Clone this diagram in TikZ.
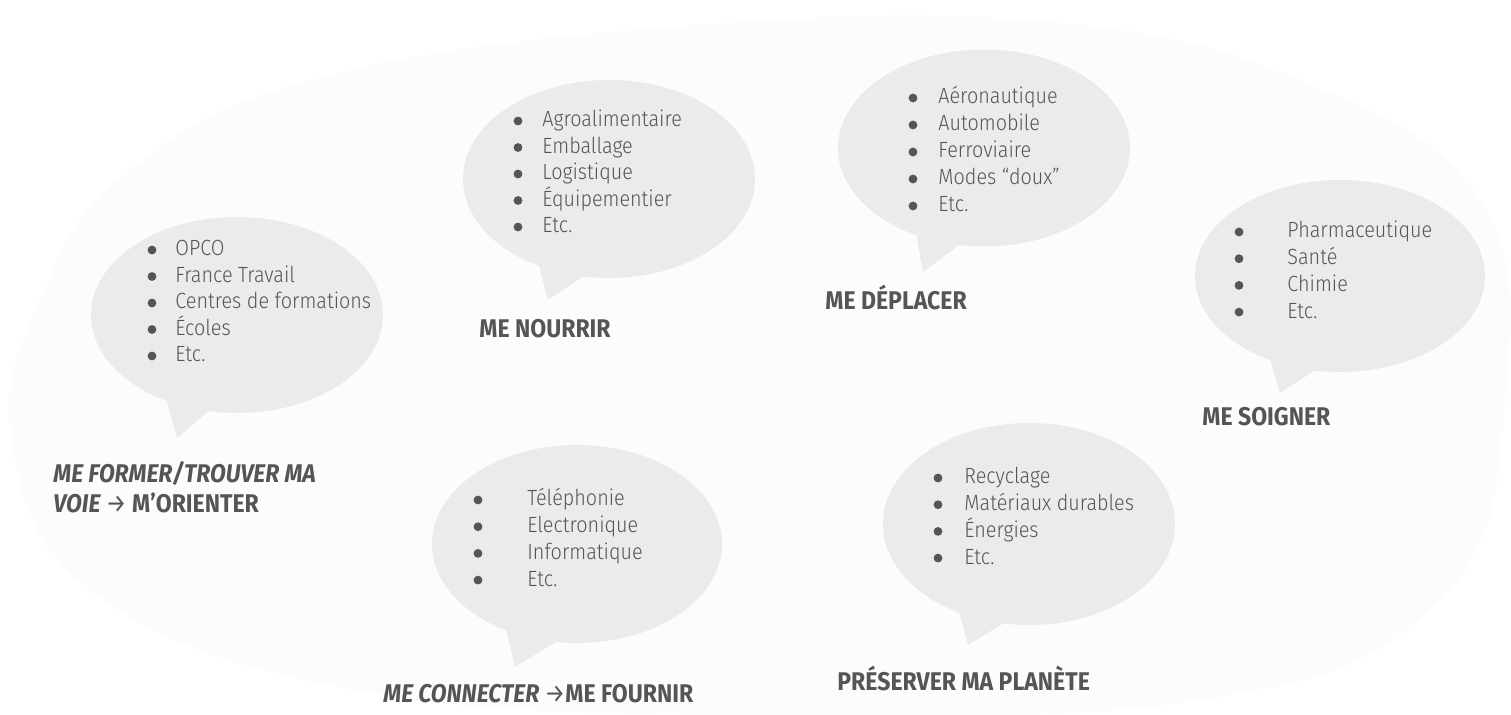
\documentclass[tikz,border=0pt]{standalone}
\usepackage{fontspec}
\setmainfont{Fira Sans}[FakeStretch=0.9]
\newfontfamily\leger{Fira Sans Light}[FakeStretch=0.9]
\usetikzlibrary{shapes.geometric}
\definecolor{bulle}{HTML}{EBEBEB}
\definecolor{encre}{HTML}{555555}
\definecolor{fond}{HTML}{FCFCFC}
\tikzset{
  bulle/.style={ellipse, fill=bulle, inner sep=0pt},
  puce/.style={circle, fill=encre, inner sep=0pt, minimum size=4.4pt},
  item/.style={anchor=base west, inner sep=0pt, text=encre, font=\leger\fontsize{11}{13}\selectfont},
  titre/.style={anchor=base west, inner sep=0pt, text=encre, font=\fontsize{12.8}{15}\selectfont\bfseries}
}
\begin{document}
\begin{tikzpicture}[x=0.5pt,y=-0.5pt]
        \useasboundingbox (0,0) rectangle (1511,715);
        \fill[fond] plot[smooth cycle, tension=0.7] coordinates {(12,440) (40,300) (130,170) (330,75) (700,25) (1050,22) (1300,80) (1480,200) (1505,400) (1440,600) (1200,700) (700,715) (330,685) (90,590)};

        % former
        \fill[bulle] (165,395) -- (177,438) -- (213,407) -- cycle;
        \node[bulle, minimum width=146pt, minimum height=98pt] (former) at (237,315) {};
        \foreach \txt [count=\i] in {OPCO, France Travail, Centres de formations, Écoles, Etc.}{
          \node[puce] (former-p\i) at (152, 223.5+26.5*\i) {};
          \node[item] (former-\i) at (175, 229.5+26.5*\i) {\txt};
        }
        \node[titre] (t-former1) at (53,483) {\itshape ME FORMER/TROUVER MA};
        \node[titre] (t-former2) at (53,513) {\itshape VOIE\upshape{} {\mdseries →} M’ORIENTER};

        % nourrir
        \fill[bulle] (538,262) -- (548,300) -- (590,272) -- cycle;
        \node[bulle, minimum width=146pt, minimum height=99pt] (nourrir) at (609,179) {};
        \foreach \txt [count=\i] in {Agroalimentaire, Emballage, Logistique, Équipementier, Etc.}{
          \node[puce] (nourrir-p\i) at (518, 94.5+26.5*\i) {};
          \node[item] (nourrir-\i) at (542, 100.5+26.5*\i) {\txt};
        }
        \node[titre] (t-nourrir) at (479,338) {ME NOURRIR};

        % deplacer
        \fill[bulle] (915,228) -- (923,272) -- (963,242) -- cycle;
        \node[bulle, minimum width=146pt, minimum height=98.5pt] (deplacer) at (984,148) {};
        \foreach \txt [count=\i] in {Aéronautique, Automobile, Ferroviaire, Modes “doux”, Etc.}{
          \node[puce] (deplacer-p\i) at (913, 71+27*\i) {};
          \node[item] (deplacer-\i) at (938, 77+27*\i) {\txt};
        }
        \node[titre] (t-deplacer) at (825,310) {ME DÉPLACER};

        % soigner
        \fill[bulle] (1268,352) -- (1280,393) -- (1323,365) -- cycle;
        \node[bulle, minimum width=145pt, minimum height=96pt] (soigner) at (1340,276) {};
        \foreach \txt [count=\i] in {Pharmaceutique, Santé, Chimie, Etc.}{
          \node[puce] (soigner-p\i) at (1239, 205.3+26.7*\i) {};
          \node[item] (soigner-\i) at (1287, 211.3+26.7*\i) {\txt};
        }
        \node[titre] (t-soigner) at (1202,426) {ME SOIGNER};

        % connecter
        \fill[bulle] (505,625) -- (515,667) -- (562,638) -- cycle;
        \node[bulle, minimum width=145pt, minimum height=99pt] (connecter) at (577,544) {};
        \foreach \txt [count=\i] in {Téléphonie, Electronique, Informatique, Etc.}{
          \node[puce] (connecter-p\i) at (478, 473.3+26.7*\i) {};
          \node[item] (connecter-\i) at (527, 479.3+26.7*\i) {\txt};
        }
        \node[titre] (t-connecter) at (383,703) {\itshape ME CONNECTER\upshape{} {\mdseries →}ME FOURNIR};

        % planete
        \fill[bulle] (957,605) -- (968,645) -- (1012,618) -- cycle;
        \node[bulle, minimum width=146pt, minimum height=101pt] (planete) at (1029,524) {};
        \foreach \txt [count=\i] in {Recyclage, Matériaux durables, Énergies, Etc.}{
          \node[puce] (planete-p\i) at (938, 451.3+26.7*\i) {};
          \node[item] (planete-\i) at (964, 457.3+26.7*\i) {\txt};
        }
        \node[titre] (t-planete) at (837,691) {PRÉSERVER MA PLANÈTE};

      \end{tikzpicture}
\end{document}
